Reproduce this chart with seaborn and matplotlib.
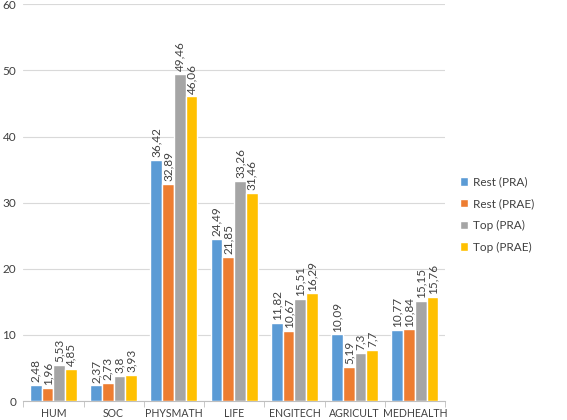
import pandas as pd
import matplotlib.pyplot as plt
import seaborn as sns

# --- DATA ---
categories = ['HUM', 'SOC', 'PHYSMATH', 'LIFE', 'ENGITECH', 'AGRICULT', 'MEDHEALTH']
series = ['Rest (PRA)', 'Rest (PRAE)', 'Top (PRA)', 'Top (PRAE)']
rest_pra = [2.48, 2.37, 36.42, 24.49, 11.82, 10.09, 10.77]
rest_prae = [1.96, 2.73, 32.89, 21.85, 10.67, 5.19, 10.84]
top_pra = [5.53, 3.8, 49.46, 33.26, 15.51, 7.3, 15.15]
top_prae = [4.85, 3.93, 46.06, 31.46, 16.29, 7.7, 15.76]
colors = ['#5B9BD5', '#ED7D31', '#A5A5A5', '#FFC000']

# --- RESHAPE ---
rows = []
for name, vals in zip(series, [rest_pra, rest_prae, top_pra, top_prae]):
    for cat, v in zip(categories, vals):
        rows.append({'Field': cat, 'Group': name, 'Value': v})
df = pd.DataFrame(rows)

# --- PLOT ---
sns.set_style('white')
plt.rcParams['font.family'] = ['Lato', 'DejaVu Sans']

fig = plt.figure(figsize=(5.67, 4.2), dpi=100)
ax = fig.add_axes([0.041, 0.045, 0.744, 0.945])

sns.barplot(data=df, x='Field', y='Value', hue='Group', order=categories,
            hue_order=series, palette=colors, width=0.78, saturation=1,
            ax=ax, zorder=3)

for cont in ax.containers:
    labels = [f"{v:g}".replace('.', ',') for v in cont.datavalues]
    ax.bar_label(cont, labels=labels, rotation=90, padding=2,
                 fontsize=8.5, color='#404040')

ax.set_ylim(0, 60)
ax.set_yticks(range(0, 61, 10))
ax.set_xlim(-0.5, len(categories) - 0.5)
ax.grid(axis='y', color='#D9D9D9', linewidth=0.8, zorder=0)
ax.set_xlabel('')
ax.set_ylabel('')
for s in ['top', 'right', 'left']:
    ax.spines[s].set_visible(False)
ax.spines['bottom'].set_color('#BFBFBF')
ax.tick_params(axis='y', labelsize=8.5, colors='#404040', length=0, pad=5)
ax.tick_params(axis='x', labelsize=7.6, colors='#404040', length=0, pad=5)
ax.set_xticks([i - 0.5 for i in range(len(categories) + 1)], minor=True)
ax.tick_params(axis='x', which='minor', length=4, color='#BFBFBF', bottom=True)

ax.legend(loc='center left', bbox_to_anchor=(1.01, 0.47), frameon=False,
          fontsize=8.5, handlelength=0.7, handleheight=0.7, labelspacing=0.9,
          handletextpad=0.4, labelcolor='#404040')

fig.savefig('out.png', dpi=100)
